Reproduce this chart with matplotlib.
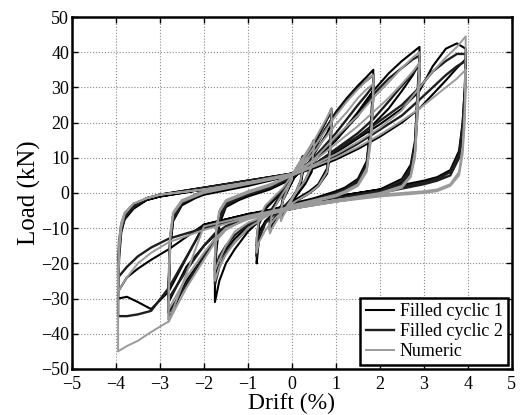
import matplotlib
matplotlib.use("Agg")
import matplotlib.pyplot as plt
import numpy as np

plt.rcParams['font.family'] = 'serif'
plt.rcParams['font.serif'] = ['Liberation Serif', 'DejaVu Serif']

# Drift paths (%) for one full cycle at each amplitude
drift_a1 = [0, 0.1, 0.2, 0.25, 0.25, 0.2, 0.1, 0, -0.1, -0.2, -0.25, -0.25, -0.2, -0.1, 0]
drift_a2 = [0, 0.15, 0.3, 0.45, 0.5, 0.5, 0.45, 0.3, 0.15, 0, -0.15, -0.3, -0.45, -0.5,
            -0.5, -0.45, -0.3, -0.15, 0]
drift_a3 = [0, 0.2, 0.4, 0.6, 0.8, 0.9, 0.9, 0.87, 0.8, 0.6, 0.4, 0.2, 0, -0.2, -0.4, -0.6,
            -0.75, -0.8, -0.8, -0.75, -0.6, -0.4, -0.2, 0]
drift_a4 = [0, 0.25, 0.5, 0.75, 1, 1.25, 1.5, 1.7, 1.85, 1.85, 1.8, 1.7, 1.5, 1.2, 1, 0.5, 0,
            -0.5, -1, -1.3, -1.5, -1.65, -1.75, -1.75, -1.72, -1.65, -1.5, -1.2, -1, -0.5, 0]
drift_a5 = [0, 0.5, 1, 1.5, 1.85, 2.2, 2.5, 2.75, 2.9, 2.9, 2.85, 2.8, 2.7, 2.5, 2, 1.5, 1, 0,
            -1, -1.5, -1.75, -2, -2.4, -2.8, -2.8, -2.77, -2.7, -2.5, -2.2, -2, -1, 0]
drift_a6 = [0, 0.5, 1, 1.5, 2, 2.5, 2.9, 3.2, 3.5, 3.75, 3.95, 3.95, 3.93, 3.88, 3.8, 3.6, 3.3,
            3, 2, 1, 0, -1, -2, -2.8, -3.2, -3.5, -3.75, -3.95, -3.95, -3.93, -3.88, -3.8,
            -3.6, -3.3, -3, -2, -1, 0]

# Filled cyclic 1 loads (kN)
fc1_a1 = [[4, 6.5, 8.5, 10, 7, 3, 0, -2, -4, -6, -7.5, -5, -2, 0.5, 3],
          [3, 5.5, 7.5, 9, 6, 2.5, -0.5, -2.5, -4, -5.5, -7, -4.5, -1.5, 1, 3.5]]
fc1_a2 = [[4, 7, 10, 13, 14.5, 13, 7, 3, 0.5, -2, -4, -6, -9, -11, -9, -5, -2, 0.5, 3.5],
          [3.5, 6, 9, 12, 13.5, 12, 6, 2.5, 0, -2.5, -4, -5.5, -8, -10, -8, -4.5, -1.5, 1, 4]]
fc1_a3 = [[4, 7, 11, 16, 21, 24, 22, 14, 7, 2.5, 0.5, -1, -2.5, -4, -5.5, -8, -13, -20,
           -17, -9, -4.5, -2, 0.5, 4],
          [4, 6, 9, 13, 17, 20, 18, 11, 5.5, 2, 0, -1.5, -3, -4.5, -6, -8, -11, -15,
           -13, -7.5, -4, -1.5, 1, 4.5]]
fc1_a4 = [[5, 8, 12, 18, 23, 27, 30.5, 33, 35, 32, 21, 9, 4, 1.5, 0.5, -1.5, -3,
           -5, -11, -16, -20, -25, -31, -27, -17, -9, -4, -2, -1, 1, 4],
          [4.5, 6.5, 9, 12, 15, 19, 23, 26.5, 29, 27, 17, 7.5, 3, 1, 0, -2, -3.5,
           -5.5, -9.5, -13, -16, -19, -24, -21, -13, -7, -3.5, -1.5, -0.5, 1.5, 4.5]]
fc1_a5 = [[5, 9, 15, 22, 29, 34, 37.5, 40, 41.5, 39, 28, 15, 8, 4, 1, 0, -1, -3.5,
           -6.5, -10, -13, -18, -25, -36, -30, -16, -8, -3.5, -1.5, -0.5, 2, 5],
          [4.5, 8, 12, 16, 19.5, 24, 29, 33.5, 37, 34, 24, 13, 6.5, 3, 0.5, -0.5, -1.5, -4,
           -6.5, -9.5, -12, -15, -21, -31, -26, -14, -7, -3, -1, 0, 2.5, 5]]
fc1_a6 = [[5.5, 8, 11.5, 15.5, 19.5, 24, 29, 36, 41, 42.5, 41, 38, 30, 20, 12, 6.5, 4.5, 3.5,
           1, -1, -3.5, -6, -9, -28, -33, -31, -29.5, -30, -25, -17, -11, -7.5, -4.5, -2,
           -1, 1, 3, 5.5],
          [5, 7, 9.5, 12.5, 16, 20, 24, 28, 32, 35.5, 38, 35, 27, 18, 10.5, 6, 4, 3, 0.5,
           -1.5, -4, -6, -9, -16, -19, -21.5, -24, -28, -24, -16, -10, -7, -4, -2, -1, 1,
           3, 5]]

# Filled cyclic 2 loads (kN)
fc2_a1 = [[4.5, 7, 9, 10.5, 7.5, 3.5, 0.5, -1.5, -3.5, -5.5, -7, -4.5, -1.5, 1, 3.5]]
fc2_a2 = [[4.5, 7.5, 10.5, 13.5, 15, 13.5, 7.5, 3.5, 1, -1.5, -3.5, -5.5, -8.5, -10.5,
           -8.5, -4.5, -1.5, 1, 4]]
fc2_a3 = [[4.5, 7.5, 11.5, 16.5, 21, 23, 21, 13, 6.5, 2, 0, -1.5, -3, -4.5, -6, -8.5,
           -13, -18, -15, -8, -4, -1.5, 1, 4.5]]
fc2_a4 = [[5, 8, 12.5, 18, 22.5, 26.5, 30, 32, 33.5, 30.5, 19, 8, 3.5, 1, 0, -2, -3.5,
           -5.5, -10, -14, -17, -21, -26, -23, -14, -8, -3.5, -1.5, -0.5, 1.5, 4.5],
          [4.5, 7, 10, 13.5, 17, 21, 25, 28, 30.5, 28, 17, 7, 2.5, 0.5, -0.5, -2.5, -4,
           -6, -9, -12, -15, -18, -22, -19, -12, -6.5, -3, -1, 0, 2, 5]]
fc2_a5 = [[5, 9.5, 15.5, 22, 28, 32.5, 35.5, 38, 39, 36, 26, 14, 7, 3.5, 0.5, -0.5, -1.5,
           -4, -6.5, -10, -13.5, -18, -26, -34, -28, -15, -7.5, -3, -1, 0, 2.5, 5],
          [4.5, 8, 12.5, 17, 21, 26, 30.5, 34, 36.5, 33, 22, 12, 6, 2.5, 0, -1, -2,
           -4.5, -7, -9.5, -11.5, -15, -22, -30, -25, -13, -6.5, -2.5, -0.5, 0.5, 3, 5.5]]
fc2_a6 = [[5.5, 8, 12, 16, 20.5, 25, 30, 34.5, 37.5, 39.5, 39.5, 37, 29, 19, 11, 6, 4,
           3, 0.5, -1.5, -4, -6.5, -9.5, -27, -33.5, -34.5, -35, -35, -29, -19, -11, -7,
           -4, -1.5, -0.5, 1.5, 3.5, 5.5],
          [5, 7.5, 10.5, 14, 18, 22, 26.5, 30, 33.5, 36, 37.5, 35, 26, 17, 10, 5, 3.5, 2.5, 0,
           -2, -4.5, -7, -10, -13, -15.5, -18, -21, -24, -21, -14, -9, -6, -3.5, -1.5,
           -0.5, 1.5, 3.5, 5.5]]

# Numeric loads (kN)
num_a1 = [[5, 7, 9, 10, 7, 3.5, 0.5, -2, -4.5, -6.5, -8, -5, -2, 1, 4]]
num_a2 = [[5, 8, 11, 14, 15, 13, 7.5, 3.5, 1, -1.5, -4.5, -7, -10, -11.5, -9.5, -5.5,
           -2, 1, 4]]
num_a3 = [[5, 8.5, 12.5, 17, 21.5, 24, 20, 12, 6, 2, 0, -1.5, -3, -5, -7.5, -10.5, -14,
           -17, -13, -7, -3.5, -1, 1.5, 5]]
num_a4 = [[5, 8.5, 13, 17.5, 22, 26, 29.5, 32, 33.5, 29, 17, 7, 2.5, 0.5, -0.5, -2, -3.5,
           -6, -10, -14, -17.5, -21, -25, -20, -11, -5.5, -2.5, -1, 0, 2, 5],
          [5, 8, 11.5, 15.5, 19.5, 23, 27, 29.5, 31, 27, 15, 6, 2, 0, -1, -2.5, -4,
           -6, -8.5, -11, -15, -19, -22, -18, -10, -5, -2, -0.5, 0.5, 2.5, 5]]
num_a5 = [[5, 9.5, 16, 22, 27, 31.5, 35.5, 38.5, 40, 36, 26, 12, 5, 2, 0, -1, -2, -4,
           -7, -10.5, -14, -19, -27, -36.5, -30, -14, -6, -2.5, -1, 0, 2.5, 5],
          [5, 9, 14, 19, 23, 27, 31, 34.5, 37, 33, 22, 10, 4.5, 1.5, -0.5, -1.5, -2.5, -4.5,
           -7.5, -10, -13, -17, -24, -33, -27, -12, -5.5, -2, -0.5, 0.5, 3, 5.5]]
num_a6 = [[5, 8, 11, 14.5, 18.5, 23.5, 30, 34.5, 38.5, 41.5, 44.5, 40, 25, 13, 6, 2.5, 1,
           0.5, -0.5, -2, -4, -6.5, -9.5, -36.5, -39.5, -42, -43.5, -45, -30, -17, -10, -6,
           -3, -1.5, -0.5, 1, 3, 5],
          [5, 7.5, 10, 13, 16.5, 20.5, 24, 27, 30, 32.5, 35, 31, 20, 11, 5, 2, 0.5, 0, -1,
           -2.5, -4.5, -7, -10.5, -14, -17, -20, -24, -28, -22, -14, -8.5, -5.5, -3, -1.5,
           -0.5, 1, 3, 5]]

drifts = [drift_a1, drift_a2, drift_a3, drift_a4, drift_a5, drift_a6]
series = {
    "Filled cyclic 1": [fc1_a1, fc1_a2, fc1_a3, fc1_a4, fc1_a5, fc1_a6],
    "Filled cyclic 2": [fc2_a1, fc2_a2, fc2_a3, fc2_a4, fc2_a5, fc2_a6],
    "Numeric": [num_a1, num_a2, num_a3, num_a4, num_a5, num_a6],
}
styles = {
    "Filled cyclic 1": dict(color="#000000", lw=1.5),
    "Filled cyclic 2": dict(color="#1e1e1e", lw=1.7),
    "Numeric": dict(color="#9a9a9a", lw=1.4),
}


def build_path(cycles_by_amp):
    xs, ys = [], []
    for d, cycles in zip(drifts, cycles_by_amp):
        for loads in cycles:
            xs.extend(d)
            ys.extend(loads)
    return np.array(xs), np.array(ys)


fig = plt.figure(figsize=(5.25, 4.15), dpi=100)
ax = fig.add_axes([0.137, 0.111, 0.838, 0.848])

for name, cyc in series.items():
    x, y = build_path(cyc)
    ax.plot(x, y, label=name, solid_joinstyle="round", **styles[name])

ax.set_xlim(-5, 5)
ax.set_ylim(-50, 50)
ax.set_xticks(range(-5, 6))
ax.set_yticks(range(-50, 51, 10))
ax.grid(True, linestyle=":", color="#888888", linewidth=0.8)
ax.tick_params(direction="in", top=True, right=True, labelsize=13, length=4, width=1)
ax.tick_params(axis="x", pad=5)
ax.tick_params(axis="y", pad=2)
for s in ax.spines.values():
    s.set_linewidth(1.8)

ax.set_xlabel("Drift (%)", fontsize=17, labelpad=0)
ax.set_ylabel("Load (kN)", fontsize=18, labelpad=0)

leg = ax.legend(loc="lower right", fontsize=13, fancybox=False, framealpha=1,
                edgecolor="black", borderaxespad=0.2, handlelength=1.6,
                handletextpad=0.3, borderpad=0.3, labelspacing=0.15)
leg.get_frame().set_linewidth(1.8)

fig.savefig("out.png", dpi=100)
